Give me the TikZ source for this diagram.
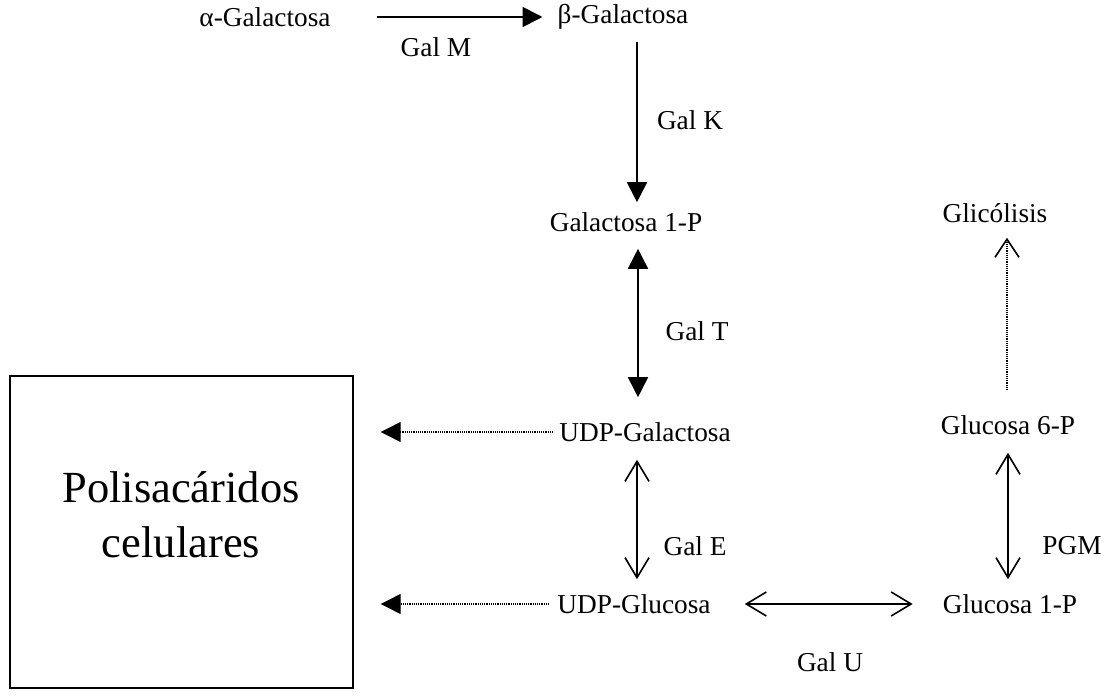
\documentclass[tikz,border=0pt]{standalone}
\usepackage{fontspec}
\setmainfont{Liberation Serif}
\usetikzlibrary{arrows.meta}
\begin{document}
\begin{tikzpicture}[x=1pt,y=-1pt,
  lbl/.style={font=\fontsize{27.3}{31}\selectfont, inner sep=0pt},
  big/.style={font=\fontsize{44.5}{55}\selectfont, inner sep=0pt, align=center},
  fa/.style={line width=1.8pt, -{Triangle[length=20pt,width=20pt]}},
  fab/.style={line width=1.8pt, {Triangle[length=20pt,width=20pt]}-{Triangle[length=20pt,width=20pt]}},
  oab/.style={line width=1.4pt, {Straight Barb[length=20pt,width=24pt,line width=1.6pt]}-{Straight Barb[length=20pt,width=24pt,line width=1.6pt]}},
  dfa/.style={line width=1.2pt, densely dotted, -{Triangle[length=20pt,width=20pt]}},
  doa/.style={line width=1.2pt, densely dotted, -{Straight Barb[length=18pt,width=24pt,line width=1.6pt]}},
]
\useasboundingbox (0,0) rectangle (1104,696);
\node[lbl] (alpha) at (265,17) {α-Galactosa};
\node[lbl] (beta) at (623,17) {β-Galactosa};
\node[lbl] (gal1p) at (626,222) {Galactosa 1-P};
\node[lbl] (udpgal) at (645,432) {UDP-Galactosa};
\node[lbl] (udpglc) at (634,604) {UDP-Glucosa};
\node[lbl] (glc1p) at (1010,604) {Glucosa 1-P};
\node[lbl] (glc6p) at (1008,425) {Glucosa 6-P};
\node[lbl] (glic) at (995,213) {Glicólisis};
\node[draw, line width=1.4pt, minimum width=343pt, minimum height=312pt, inner sep=0pt] (poli) at (181.5,532) {};
\node[big] at (181,515) {Polisacáridos\\celulares};

\node[lbl] (lM) at (436,47) {Gal M};
\node[lbl] (lK) at (690,120) {Gal K};
\node[lbl] (lT) at (697,331) {Gal T};
\node[lbl] (lE) at (695,546) {Gal E};
\node[lbl] (lU) at (830,662) {Gal U};
\node[lbl] (lP) at (1072,546) {PGM};

\draw[fa, shorten >=15pt] (alpha.east -| 377,0) -- (beta.west);
\draw[fa, shorten <=12pt, shorten >=10pt] (beta.south -| 637,0) -- (gal1p.north -| 637,0);
\draw[fab, shorten <=17pt, shorten >=25pt] (gal1p.south -| 638,0) -- (udpgal.north -| 638,0);
\draw[oab, shorten <=18pt, shorten >=15pt] (udpgal.south -| 637,0) -- (udpglc.north -| 637,0);
\draw[oab, shorten <=18pt, shorten >=15pt] (glc6p.south -| 1008,0) -- (glc1p.north -| 1008,0);
\draw[oab, shorten <=34pt, shorten >=30pt] (udpglc.east) -- (glc1p.west);
\draw[doa, shorten <=25pt, shorten >=15pt] (glc6p.north -| 1007,0) -- (glic.south -| 1007,0);
\draw[dfa, shorten <=6pt, shorten >=27pt] (udpgal.west) -- (udpgal.west -| poli.east);
\draw[dfa, shorten <=8pt, shorten >=27pt] (udpglc.west) -- (udpglc.west -| poli.east);
\end{tikzpicture}
\end{document}
